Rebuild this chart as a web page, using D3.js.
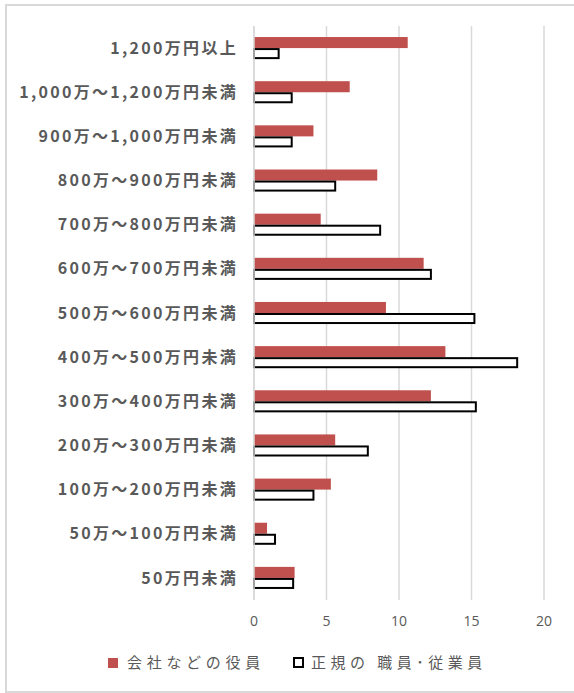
<html>
<head>
<meta charset="utf-8">
<script src="https://d3js.org/d3.v7.min.js"></script>
<style>
  body { margin: 0; background: #fff; }
  text { font-family: "Noto Sans CJK JP", "Noto Sans", sans-serif; }
</style>
</head>
<body>
<svg class="chart" width="574" height="693"></svg>
<script>
// income brackets, top to bottom as in the chart
var categories = ["1,200万円以上", "1,000万～1,200万円未満", "900万～1,000万円未満",
  "800万～900万円未満", "700万～800万円未満", "600万～700万円未満", "500万～600万円未満",
  "400万～500万円未満", "300万～400万円未満", "200万～300万円未満", "100万～200万円未満",
  "50万～100万円未満", "50万円未満"];
var seriesNames = ["会社などの役員", "正規の 職員･従業員"];
var officers  = [10.6, 6.6, 4.1, 8.5, 4.6, 11.7, 9.1, 13.2, 12.2, 5.6, 5.3, 0.9, 2.8];
var employees = [1.7, 2.6, 2.6, 5.6, 8.7, 12.2, 15.2, 18.15, 15.3, 7.85, 4.1, 1.45, 2.7];
var xTicks = [0, 5, 10, 15, 20];

var svg = d3.select(".chart");

// chart area border
svg.append("rect")
  .attr("x", 6).attr("y", 5).attr("width", 580).attr("height", 687)
  .attr("fill", "none").attr("stroke", "#d9d9d9").attr("stroke-width", 2);

var x = d3.scaleLinear().domain([0, 20]).range([254, 544]);
var y = d3.scaleBand().domain(categories).range([26, 600])
  .paddingInner(0.5).paddingOuter(0.25);
var y1 = d3.scaleBand().domain([0, 1]).range([0, y.bandwidth()]);

// gridlines
svg.append("g").selectAll("line").data(xTicks).enter()
  .append("line")
    .attr("x1", function(d) { return x(d); })
    .attr("x2", function(d) { return x(d); })
    .attr("y1", 26).attr("y2", 600)
    .attr("stroke", "#d9d9d9").attr("stroke-width", 1.5);

// x tick labels
svg.append("g").selectAll("text").data(xTicks).enter()
  .append("text")
    .attr("x", function(d) { return x(d); })
    .attr("y", 626)
    .attr("text-anchor", "middle")
    .attr("fill", "#595959")
    .style("font-family", "'Open Sans', sans-serif")
    .style("font-size", "14px")
    .text(function(d) { return d; });

// category labels
svg.append("g").selectAll("text").data(categories).enter()
  .append("text")
    .attr("x", 238)
    .attr("y", function(d) { return y(d) + y.bandwidth() / 2; })
    .attr("dy", "0.35em")
    .attr("text-anchor", "end")
    .attr("fill", "#595959")
    .style("font-size", "16px")
    .style("font-weight", "bold")
    .style("letter-spacing", "2.3px")
    .text(function(d) { return d; });

// officers bars (red)
svg.append("g").selectAll("rect").data(officers).enter()
  .append("rect")
    .attr("x", x(0))
    .attr("y", function(d, i) { return y(categories[i]) + y1(0); })
    .attr("width", function(d) { return x(d) - x(0); })
    .attr("height", y1.bandwidth())
    .attr("fill", "#c0504d");

// employees bars (outlined)
svg.append("g").selectAll("rect").data(employees).enter()
  .append("rect")
    .attr("x", x(0))
    .attr("y", function(d, i) { return y(categories[i]) + y1(1) + 1; })
    .attr("width", function(d) { return x(d) - x(0); })
    .attr("height", y1.bandwidth() - 2)
    .attr("fill", "#fff")
    .attr("stroke", "#000")
    .attr("stroke-width", 2);

// zero line on top
svg.append("line")
  .attr("x1", x(0)).attr("x2", x(0)).attr("y1", 26).attr("y2", 600)
  .attr("stroke", "#d9d9d9").attr("stroke-width", 1.5);

// legend
var legend = svg.append("g");
legend.append("rect").attr("x", 108).attr("y", 658).attr("width", 10).attr("height", 10)
  .attr("fill", "#c0504d");
legend.append("text").attr("x", 127).attr("y", 663).attr("dy", "0.35em")
  .attr("fill", "#595959").style("font-size", "15px").style("letter-spacing", "4.7px")
  .text(seriesNames[0]);
legend.append("rect").attr("x", 294).attr("y", 658).attr("width", 9).attr("height", 9)
  .attr("fill", "#fff").attr("stroke", "#000").attr("stroke-width", 2);
legend.append("text").attr("x", 311).attr("y", 663).attr("dy", "0.35em")
  .attr("fill", "#595959").style("font-size", "15px").style("letter-spacing", "4.5px")
  .text(seriesNames[1]);
</script>
</body>
</html>
